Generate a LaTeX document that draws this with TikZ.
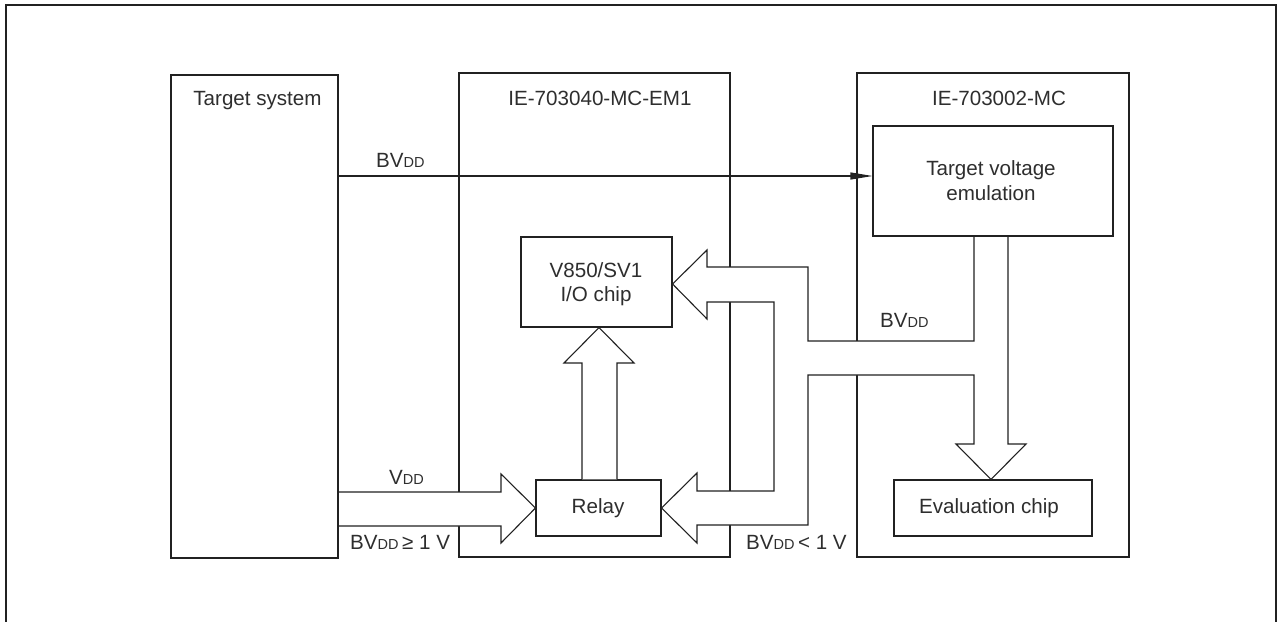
\documentclass[tikz,border=0pt]{standalone}
\usepackage{fontspec}
\setmainfont{Liberation Sans}
\usetikzlibrary{arrows.meta}
\definecolor{ln}{gray}{0.13}
\definecolor{tx}{gray}{0.18}
\newcommand{\sdd}{{\fontsize{14.5}{14.5}\selectfont DD}}
\begin{document}
\begin{tikzpicture}[x=1pt,y=-1pt,
  thickbox/.style={draw=ln,line width=2.2pt,inner sep=0pt},
  thinbox/.style={draw=ln,line width=1.1pt,inner sep=0pt,fill=white},
  band/.style={draw=ln,line width=1.1pt,fill=white,line join=miter},
  lbl/.style={anchor=base,inner sep=0pt,text=tx,font=\fontsize{20.6}{24}\selectfont},
  lbll/.style={lbl,anchor=base west},
]
\useasboundingbox (0,0) rectangle (1279,621);
% outer frame (open at bottom)
\draw[ln,line width=2.2pt] (6,640) -- (6,5) -- (1276,5) -- (1276,640);

% main boxes
\node[thickbox, minimum width=167pt, minimum height=483pt] (target) at (254.5,316.5) {};
\node[thickbox, minimum width=271pt, minimum height=484pt] (em1) at (594.5,315) {};
\node[thickbox, minimum width=272pt, minimum height=484pt] (mc) at (993,315) {};

% inner boxes
\node[thinbox, minimum width=240pt, minimum height=110pt] (tve) at (993,181) {};
\node[thinbox, minimum width=151pt, minimum height=90pt] (v850) at (596.5,282) {};
\node[thinbox, minimum width=125pt, minimum height=56pt] (relay) at (598.5,508) {};
\node[thinbox, minimum width=198pt, minimum height=56pt] (eval) at (993,508) {};

% BVDD signal line
\coordinate (bvy) at (0,176);
\draw[ln,line width=1.1pt,-{Triangle[length=22pt,width=7pt]}] (target.east |- bvy) -- (tve.west |- bvy);

% target system -> relay (hollow arrow)
\filldraw[band] (339,492) -- (501,492) -- (501,474) -- (relay.west) -- (501,543) -- (501,526) -- (339,526);

% relay -> V850 (hollow arrow)
\filldraw[band] (relay.north -| 582,0) -- (582,363) -- (564,363) -- (v850.south -| 599,0) -- (634,363) -- (617,363) -- (relay.north -| 617,0);

% target voltage emulation -> V850, relay, evaluation chip (branching hollow arrow)
\filldraw[band] (974,237) -- (974,341) -- (808,341) -- (808,267) -- (707,267) -- (707,250)
  -- (v850.east |- 0,284) -- (707,319) -- (707,302) -- (774,302) -- (774,491) -- (697,491)
  -- (697,473) -- (relay.east) -- (697,543) -- (697,525) -- (808,525) -- (808,375)
  -- (974,375) -- (974,444) -- (956,444) -- (eval.north -| 991,0) -- (1026,444) -- (1008,444)
  -- (1008,237);

% texts
\node[lbl] (t1) at (257.5,105.5) {Target system};
\node[lbl] (t2) at (600,105.5) {IE-703040-MC-EM1};
\node[lbl] (t3) at (999,105.5) {IE-703002-MC};
\node[lbl] (t4) at (991,175) {Target voltage};
\node[lbl] (t5) at (991,200) {emulation};
\node[lbl] (t6) at (596,277.5) {V850/SV1};
\node[lbl] (t7) at (596,301.5) {I/O chip};
\node[lbl] (t8) at (598,513) {Relay};
\node[lbl] (t9) at (989,513) {Evaluation chip};
\node[lbll] (l1) at (376,167) {BV\sdd};
\node[lbll] (l2) at (880,327) {BV\sdd};
\node[lbll] (l3) at (389,484) {V\sdd};
\node[lbll] (l4) at (350,549) {BV\sdd\,≥ 1 V};
\node[lbll] (l5) at (746,549) {BV\sdd\,< 1 V};
\end{tikzpicture}
\end{document}
